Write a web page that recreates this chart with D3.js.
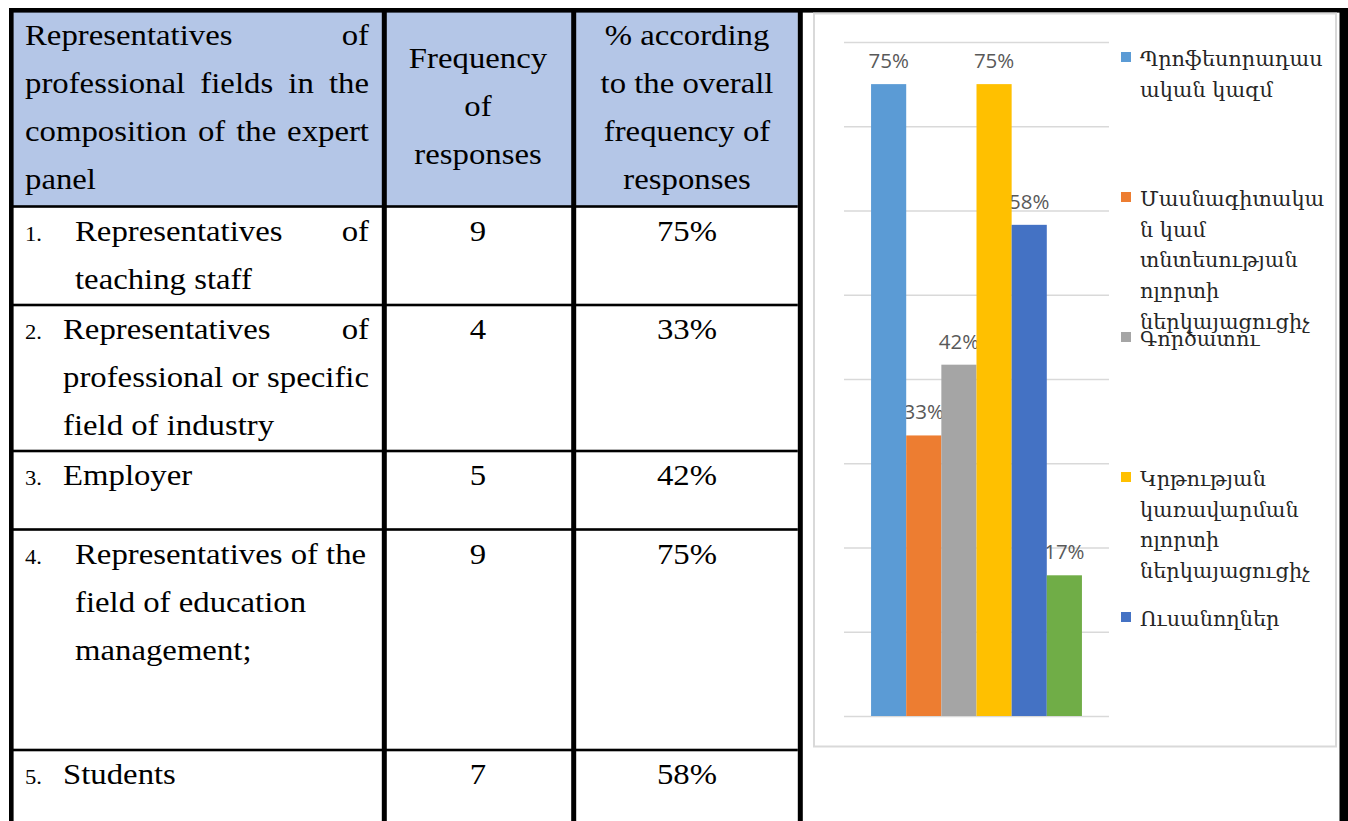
<!DOCTYPE html>
<html>
<head>
<meta charset="utf-8">
<script src="https://cdn.jsdelivr.net/npm/d3@7"></script>
<style>
  html, body { margin: 0; padding: 0; background: #fff; }
  svg { display: block; }
</style>
</head>
<body>
<svg id="fig" width="1348" height="821"></svg>
<script>
// ---------- data ----------
const headerCol1 = ["Representatives of", "professional fields in the", "composition of the expert", "panel"];
const headerCol2 = ["Frequency", "of", "responses"];
const headerCol3 = ["% according", "to the overall", "frequency of", "responses"];

const rowNumbers = ["1.", "2.", "3.", "4.", "5."];
const rowLabelLines = [
  ["Representatives of", "teaching staff"],
  ["Representatives of", "professional or specific", "field of industry"],
  ["Employer"],
  ["Representatives of the", "field of education", "management;"],
  ["Students"]
];
const frequencies = [9, 4, 5, 9, 7];

// share of the expert panel for each group shown in the bar chart
const seriesShares = [0.75, 0.333, 0.417, 0.75, 0.583, 0.167];
const seriesColors = ["#5B9BD5", "#ED7D31", "#A5A5A5", "#FFC000", "#4472C4", "#70AD47"];
const legendLines = [
  ["Պրոֆեսորադաս", "ական կազմ"],
  ["Մասնագիտակա", "ն կամ", "տնտեսության", "ոլորտի", "ներկայացուցիչ"],
  ["Գործատու"],
  ["Կրթության", "կառավարման", "ոլորտի", "ներկայացուցիչ"],
  ["Ուսանողներ"]
];
const gridTicks = [0, 0.1, 0.2, 0.3, 0.4, 0.5, 0.6, 0.7, 0.8];

// ---------- layout ----------
const svg = d3.select("#fig");
const pct = d3.format(".0%");

const T = {
  left: 9, top: 8, border: 4.6,
  d1: 381.8, d2: 571.2, d3: 797.8, divW: 5,
  right: 1339.5,
  headerBottom: 206.5,
  rowLines: [206.5, 305, 451, 529.5, 750],
  col1L: 25, col1R: 369,
  col2C: 478, col3C: 687,
  lineStep: 48
};
const SERIF = "'Liberation Serif', 'Times New Roman', serif";
const SX = 1.13;          // horizontal stretch for the table face
const FS = 29;            // table font size

// background
svg.append("rect").attr("width", 1348).attr("height", 821).attr("fill", "#fff");

// header fill
svg.append("rect")
  .attr("x", T.left).attr("y", T.top)
  .attr("width", T.d3 - T.left).attr("height", T.headerBottom - T.top)
  .attr("fill", "#B4C6E7");

const textLayer = svg.append("g");

function measure(str, size) {
  const t = textLayer.append("text")
    .attr("font-family", SERIF).attr("font-size", size).text(str);
  const w = t.node().getComputedTextLength();
  t.remove();
  return w;
}

function put(str, x, y, anchor, size) {
  const g = textLayer.append("g")
    .attr("transform", `translate(${x},${y}) scale(${SX},1)`);
  g.append("text")
    .attr("font-family", SERIF)
    .attr("font-size", size || FS)
    .attr("fill", "#000")
    .attr("text-anchor", anchor || "start")
    .text(str);
}

function justified(str, x0, x1, y) {
  const words = str.split(" ");
  const widths = words.map(w => measure(w, FS) * SX);
  const total = d3.sum(widths);
  const gap = (x1 - x0 - total) / (words.length - 1);
  let x = x0;
  words.forEach((w, i) => {
    put(w, x, y, "start");
    x += widths[i] + gap;
  });
}

// header texts
headerCol1.forEach((line, i) => {
  const y = 45 + i * T.lineStep;
  if (i < headerCol1.length - 1) justified(line, T.col1L, T.col1R, y);
  else put(line, T.col1L, y, "start");
});
headerCol2.forEach((line, i) => put(line, T.col2C, 68 + i * T.lineStep, "middle"));
headerCol3.forEach((line, i) => put(line, T.col3C, 45 + i * T.lineStep, "middle"));

// body rows
const rowIndent = [75, 63, 63, 75, 63];
const rowJustify = [true, true, false, false, false];
rowLabelLines.forEach((lines, r) => {
  const base = T.rowLines[r] + 34;
  put(rowNumbers[r], 25, base, "start", 20);
  lines.forEach((line, j) => {
    const y = base + j * T.lineStep;
    if (rowJustify[r] && j < lines.length - 1) justified(line, rowIndent[r], T.col1R, y);
    else put(line, rowIndent[r], y, "start");
  });
  put(String(frequencies[r]), T.col2C, base, "middle");
  put(pct(seriesShares[r]), T.col3C, base, "middle");
});

// table rules
const rules = svg.append("g").attr("fill", "#000");
T.rowLines.forEach(y => {
  rules.append("rect").attr("x", T.left).attr("y", y - 1.3)
    .attr("width", T.d3 - T.left).attr("height", 2.6);
});
rules.append("rect").attr("x", T.left).attr("y", T.top)
  .attr("width", 1348 - T.left).attr("height", T.border);
rules.append("rect").attr("x", T.left).attr("y", T.top)
  .attr("width", T.border).attr("height", 821 - T.top);
[T.d1, T.d2, T.d3].forEach(x => {
  rules.append("rect").attr("x", x).attr("y", T.top)
    .attr("width", T.divW).attr("height", 821 - T.top);
});
rules.append("rect").attr("x", T.right).attr("y", T.top)
  .attr("width", 1348 - T.right).attr("height", 821 - T.top);

// ---------- bar chart ----------
const chart = svg.append("g");
chart.append("rect")
  .attr("x", 814).attr("y", 13.5).attr("width", 522).attr("height", 733)
  .attr("fill", "#fff").attr("stroke", "#D9D9D9").attr("stroke-width", 2);

const plot = { x0: 844, x1: 1109, top: 42, base: 716 };
const y = d3.scaleLinear().domain([0, 0.8]).range([plot.base, plot.top]);
const x = d3.scaleBand()
  .domain(d3.range(seriesShares.length))
  .range([plot.x0, plot.x1])
  .paddingInner(0).paddingOuter(0.77);

const grid = chart.append("g")
  .attr("transform", `translate(${plot.x0},0)`)
  .call(d3.axisLeft(y).tickValues(gridTicks).tickSize(-(plot.x1 - plot.x0)).tickFormat(""));
grid.select(".domain").remove();
grid.selectAll(".tick line").attr("stroke", "#D9D9D9").attr("stroke-width", 1.6);

// value labels sit underneath the bars
chart.append("g").selectAll("text")
  .data(seriesShares)
  .join("text")
  .attr("x", (d, i) => x(i) + x.bandwidth() / 2)
  .attr("y", d => y(d) - 16)
  .attr("text-anchor", "middle")
  .attr("font-family", "'Open Sans', 'Liberation Sans', sans-serif")
  .attr("font-size", 20.5)
  .attr("fill", "#595959")
  .text(d => pct(d));

chart.append("g").selectAll("rect")
  .data(seriesShares)
  .join("rect")
  .attr("x", (d, i) => x(i))
  .attr("y", d => y(d))
  .attr("width", x.bandwidth())
  .attr("height", d => y(0) - y(d))
  .attr("fill", (d, i) => seriesColors[i]);

// legend
const legend = chart.append("g");
legendLines.forEach((lines, i) => {
  const top = 52 + i * 140;
  legend.append("rect")
    .attr("x", 1121).attr("y", top).attr("width", 10).attr("height", 10)
    .attr("fill", seriesColors[i]);
  lines.forEach((line, j) => {
    legend.append("text")
      .attr("x", 1140).attr("y", top + 14 + j * 30.7)
      .attr("font-family", "'DejaVu Serif', serif")
      .attr("font-size", 20.8)
      .attr("fill", "#262626")
      .text(line);
  });
});
</script>
</body>
</html>
